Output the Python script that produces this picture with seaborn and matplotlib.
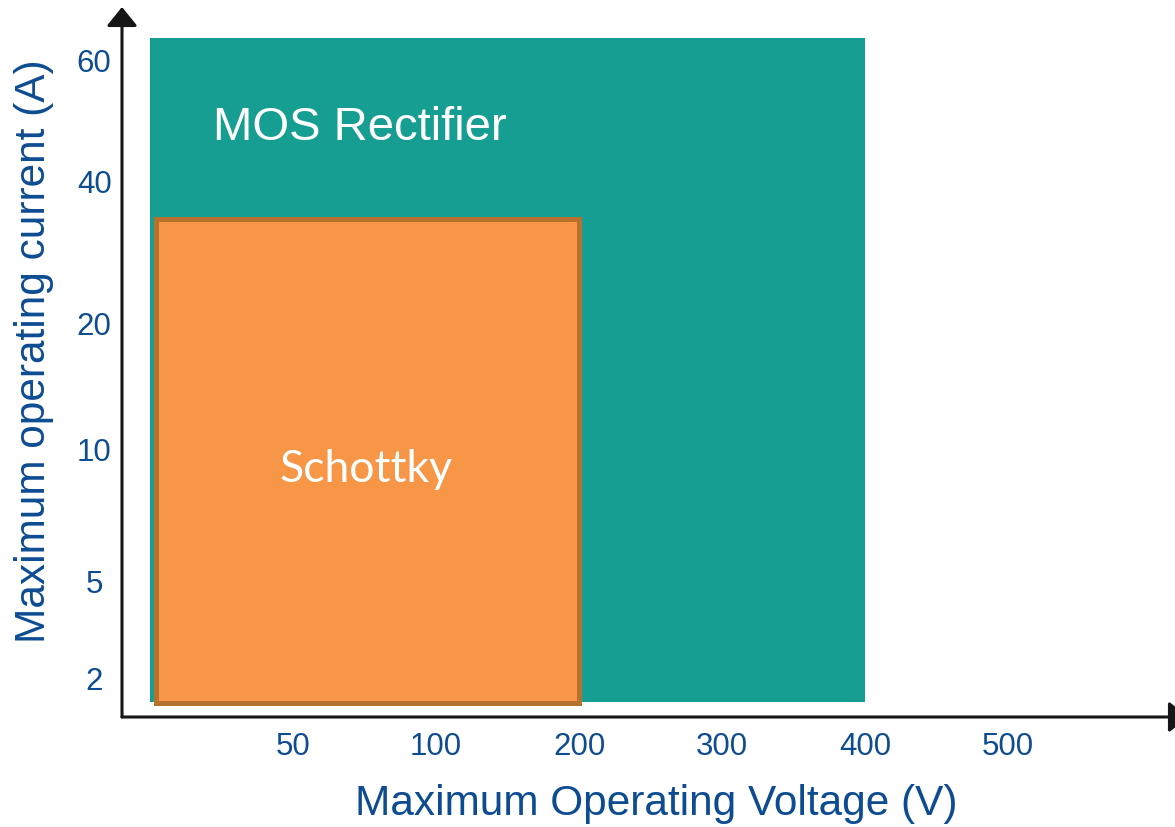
import numpy as np
import seaborn as sns
import matplotlib.pyplot as plt
from matplotlib.patches import Rectangle

# Tick values shown on each axis
volt_ticks = [50, 100, 200, 300, 400, 500]
curr_ticks = [2, 5, 10, 20, 40, 60]

# Operating regions (voltage in V, current in A)
regions = ["MOS Rectifier", "Schottky"]
v_low = [0, 2]
v_high = [400, 200]
i_low = [0.75, 0.7]
i_high = [63.5, 34.5]

# Schematic (non-linear) axis scales: value -> slot
x_knots_val = [-100, 0, 50, 100, 200, 300, 400, 500, 700]
x_knots_pos = [-2, 0, 1, 2, 3, 4, 5, 6, 8]
y_knots_val = [0, 2, 5, 10, 20, 40, 60, 80]
y_knots_pos = [0, 0.40, 1.37, 2.69, 3.95, 5.37, 6.58, 7.79]


def x_fwd(v):
    return np.interp(v, x_knots_val, x_knots_pos)


def x_inv(s):
    return np.interp(s, x_knots_pos, x_knots_val)


def y_fwd(v):
    return np.interp(v, y_knots_val, y_knots_pos)


def y_inv(s):
    return np.interp(s, y_knots_pos, y_knots_val)


sns.set_theme(style="white")
plt.rcParams["font.family"] = ["Liberation Sans", "DejaVu Sans"]

blue = "#0E4C92"
teal = "#179E93"
orange = "#F79646"
edge = "#B8702F"
axis_col = "#161616"

fig = plt.figure(figsize=(11.75, 8.28), dpi=100)
W, H = 1175, 828
ax = fig.add_axes([122 / W, (H - 718) / H, (1188 - 122) / W, (718 - 8) / H])

ax.set_xscale("function", functions=(x_fwd, x_inv))
ax.set_yscale("function", functions=(y_fwd, y_inv))
ax.set_xlim(-9.8, 625.9)
ax.set_ylim(0, 68.6)

# MOS rectifier region
ax.add_patch(Rectangle((v_low[0], i_low[0]), v_high[0] - v_low[0], i_high[0] - i_low[0],
                       facecolor=teal, edgecolor="none", zorder=1))
# Schottky region
ax.add_patch(Rectangle((v_low[1], i_low[1]), v_high[1] - v_low[1], i_high[1] - i_low[1],
                       facecolor=orange, edgecolor=edge, linewidth=3.6, zorder=2))

ax.text(22, 46.8, regions[0], color="white", fontsize=34, ha="left", va="baseline", zorder=3)
ax.text(75.5, 8.75, regions[1], color="white", fontsize=32, ha="center", va="baseline",
        family=["Lato", "DejaVu Sans"], zorder=3)

ax.set_xticks(volt_ticks)
ax.set_xticklabels([str(v) for v in volt_ticks])
ax.set_yticks(curr_ticks)
ax.set_yticklabels([str(v) for v in curr_ticks])
ax.minorticks_off()
ax.tick_params(axis="x", length=0, pad=10, labelsize=22.5, labelcolor=blue)
ax.tick_params(axis="y", length=0, pad=20, labelsize=22.5, labelcolor=blue)
for lab in ax.get_yticklabels():
    lab.set_horizontalalignment("center")

for s in ax.spines.values():
    s.set_visible(False)

# Arrowed axes
arrow = dict(arrowstyle="-|>,head_length=0.58,head_width=0.47", lw=2.2, color=axis_col,
             mutation_scale=20, shrinkA=0, shrinkB=0)
ax.annotate("", xy=(0, 1), xytext=(0, 0), xycoords="axes fraction", arrowprops=arrow,
            annotation_clip=False)
ax.annotate("", xy=(1, 0), xytext=(0, 0), xycoords="axes fraction", arrowprops=arrow,
            annotation_clip=False)

fig.text(656 / W, 1 - 815 / H, "Maximum Operating Voltage (V)", fontsize=30.5, color=blue,
         ha="center", va="baseline")
fig.text(34 / W, 1 - 351 / H, "Maximum operating current (A)", fontsize=30.5, color=blue,
         ha="center", va="center", rotation=90)

fig.savefig("out.png", dpi=100)
